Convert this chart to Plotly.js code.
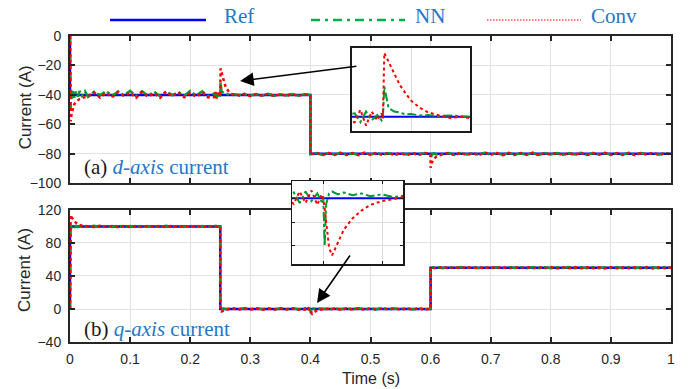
<!DOCTYPE html>
<html><head><meta charset="utf-8">
<script src="https://cdn.plot.ly/plotly-3.0.1.min.js"></script>
<style>html,body{margin:0;padding:0;background:#fff}#chart{width:689px;height:389px}</style>
</head><body><div id="chart"></div>
<script>
// ---------- d-axis current (top panel) ----------
const tD = [
  0, 0.001, 0.002, 0.003, 0.005, 0.007, 0.01, 0.013, 0.016, 0.02,
  0.025, 0.03, 0.04, 0.05, 0.06, 0.07, 0.08, 0.09, 0.1, 0.11,
  0.12, 0.13, 0.14, 0.15, 0.16, 0.17, 0.18, 0.19, 0.2, 0.21,
  0.22, 0.23, 0.24, 0.242, 0.244, 0.246, 0.248, 0.2495, 0.25, 0.2505,
  0.252, 0.254, 0.256, 0.258, 0.26, 0.263, 0.266, 0.27, 0.274, 0.278,
  0.282, 0.29, 0.3, 0.31, 0.32, 0.33, 0.34, 0.35, 0.36, 0.37,
  0.38, 0.39, 0.3999, 0.4, 0.41, 0.42, 0.43, 0.44, 0.45, 0.46,
  0.47, 0.48, 0.49, 0.5, 0.51, 0.52, 0.53, 0.54, 0.55, 0.56,
  0.57, 0.58, 0.59, 0.5999, 0.6, 0.602, 0.605, 0.61, 0.615, 0.62,
  0.63, 0.64, 0.65, 0.66, 0.67, 0.68, 0.69, 0.7, 0.71, 0.72,
  0.73, 0.74, 0.75, 0.76, 0.77, 0.78, 0.79, 0.8, 0.81, 0.82,
  0.83, 0.84, 0.85, 0.86, 0.87, 0.88, 0.89, 0.9, 0.91, 0.92,
  0.93, 0.94, 0.95, 0.96, 0.97, 0.98, 0.99, 1.0
];
const nnD = [
  0, -50, -36.5, -42.5, -37.5, -41.8, -37.8, -41.2, -37.4, -40.6,
  -37.6, -41.3, -37.9, -40.2, -37.3, -40.8, -37.7, -40.4, -37.2, -40.9,
  -37.5, -40.6, -37.8, -41, -37.4, -40.3, -37.9, -40.7, -37.3, -40.5,
  -37.6, -40.8, -39, -41.5, -38.5, -41, -39.5, -41, -40, -31.5,
  -37.5, -38.5, -38.8, -39.3, -39.2, -39.6, -39.5, -39.8, -39.6, -39.9,
  -40.1, -39.4, -40.6, -39.5, -40.5, -39.3, -40.7, -39.6, -40.4, -39.4,
  -40.6, -39.5, -40.1, -80.3, -79.4, -80.7, -79.5, -80.5, -79.3, -80.6,
  -79.6, -80.7, -79.4, -80.5, -79.5, -80.6, -79.4, -80.8, -79.6, -80.5,
  -79.5, -80.6, -79.4, -80.1, -83, -80.8, -79.6, -80.4, -79.7, -80.3,
  -79.5, -80.7, -79.4, -80.5, -79.6, -80.6, -79.3, -80.5, -79.5, -80.7,
  -79.4, -80.5, -79.6, -80.6, -79.3, -80.7, -79.5, -80.4, -79.4, -80.6,
  -79.6, -80.5, -79.3, -80.7, -79.5, -80.4, -79.4, -80.6, -79.6, -80.5,
  -79.4, -80.7, -79.5, -80.4, -79.3, -80.6, -79.5, -80.2
];
const convD = [
  0, -58, -55, -52, -48.5, -46.5, -44.5, -43.5, -42.8, -42,
  -41.5, -41, -38.2, -41.8, -38.6, -41.5, -37.9, -40.8, -38.4, -41.9,
  -38.1, -41.2, -38.8, -42, -37.8, -40.9, -38.3, -41.6, -38.7, -41.3,
  -38.2, -41.7, -41.5, -38, -42.5, -38.5, -41, -39, -40.5, -22,
  -24.5, -28, -31, -33.3, -35.4, -37.4, -38.7, -39.6, -40.3, -40,
  -40.5, -39.3, -40.8, -39.4, -40.6, -39.2, -40.9, -39.5, -40.7, -39.3,
  -40.8, -39.4, -40.3, -80.5, -79.2, -80.9, -79.4, -80.7, -79.3, -80.8,
  -79.5, -80.9, -79.2, -80.6, -79.4, -80.8, -79.3, -80.7, -79.5, -80.9,
  -79.4, -80.8, -79.3, -80.4, -89.5, -86, -83.5, -81.8, -80.8, -80.2,
  -79.4, -80.9, -79.3, -80.7, -79.5, -80.8, -79.2, -80.6, -79.4, -80.9,
  -79.3, -80.7, -79.5, -80.8, -79.2, -80.9, -79.4, -80.6, -79.3, -80.8,
  -79.5, -80.7, -79.2, -80.9, -79.4, -80.6, -79.3, -80.8, -79.5, -80.7,
  -79.3, -80.9, -79.4, -80.6, -79.2, -80.8, -79.5, -80.4
];
const refDT = [0, 0, 0.4, 0.4, 1];
const refDV = [0, -40, -40, -80, -80];

// ---------- q-axis current (bottom panel) ----------
const tQ = [
  0, 0.001, 0.003, 0.005, 0.008, 0.01, 0.013, 0.016, 0.02, 0.025,
  0.03, 0.04, 0.05, 0.06, 0.07, 0.08, 0.09, 0.1, 0.11, 0.12,
  0.13, 0.14, 0.15, 0.16, 0.17, 0.18, 0.19, 0.2, 0.21, 0.22,
  0.23, 0.24, 0.2499, 0.25, 0.252, 0.255, 0.26, 0.27, 0.28, 0.29,
  0.3, 0.31, 0.32, 0.33, 0.34, 0.35, 0.36, 0.37, 0.38, 0.385,
  0.39, 0.392, 0.394, 0.396, 0.398, 0.3995, 0.4, 0.4005, 0.401, 0.402,
  0.403, 0.405, 0.407, 0.41, 0.413, 0.416, 0.42, 0.424, 0.428, 0.435,
  0.44, 0.45, 0.46, 0.47, 0.48, 0.49, 0.5, 0.51, 0.52, 0.53,
  0.54, 0.55, 0.56, 0.57, 0.58, 0.59, 0.5999, 0.6, 0.61, 0.62,
  0.63, 0.64, 0.65, 0.66, 0.67, 0.68, 0.69, 0.7, 0.71, 0.72,
  0.73, 0.74, 0.75, 0.76, 0.77, 0.78, 0.79, 0.8, 0.81, 0.82,
  0.83, 0.84, 0.85, 0.86, 0.87, 0.88, 0.89, 0.9, 0.91, 0.92,
  0.93, 0.94, 0.95, 0.96, 0.97, 0.98, 0.99, 1.0
];
const nnQ = [
  0, 101.5, 99, 100.9, 99.3, 100.7, 99.4, 100.8, 99.2, 100.6,
  99.5, 100.8, 99.3, 100.7, 99.4, 100.9, 99.2, 100.6, 99.5, 100.8,
  99.3, 100.7, 99.4, 100.9, 99.2, 100.6, 99.5, 100.8, 99.3, 100.7,
  99.4, 100.8, 99.8, 0.5, -1.5, 0.6, -0.4, 0.9, -0.3, 0.8,
  -0.4, 0.9, -0.2, 0.7, -0.5, 0.8, -0.3, 0.9, -0.4, -0.4,
  0.6, -0.5, 0.7, -0.3, 0.5, -0.4, 0.2, -5.0, -0.6, 0.5,
  0.7, 0.4, 0.6, 0.3, 0.5, 0.2, 0.4, 0.1, 0.3, -0.2,
  0.8, -0.4, 0.7, -0.3, 0.9, -0.5, 0.6, -0.2, 0.8, -0.4,
  0.7, -0.3, 0.9, -0.5, 0.6, -0.2, 0.1, 50.3, 50.8, 49.5,
  50.7, 49.4, 50.9, 49.6, 50.6, 49.3, 50.8, 49.5, 50.7, 49.4,
  50.9, 49.6, 50.5, 49.3, 50.8, 49.5, 50.7, 49.4, 50.6, 49.6,
  50.8, 49.3, 50.7, 49.5, 50.9, 49.4, 50.6, 49.6, 50.7, 49.3,
  50.8, 49.5, 50.6, 49.4, 50.7, 49.3, 50.8, 49.9
];
const convQ = [
  0, 114, 111, 108.5, 106, 104.5, 103, 102, 101, 100.5,
  100.8, 99.3, 100.9, 99.5, 100.7, 99.2, 100.8, 99.4, 100.6, 99.3,
  100.9, 99.5, 100.7, 99.2, 100.8, 99.4, 100.6, 99.3, 100.9, 99.5,
  100.7, 99.4, 100.2, -1.5, -3, -2, -0.8, 0.6, -0.7, 0.8,
  -0.6, 0.7, -0.8, 0.6, -0.7, 0.8, -0.6, 0.7, -0.8, 0.5,
  -0.6, 0.7, -0.5, 0.8, -0.7, 0.4, -0.2, -1.0, -2.5, -5.2,
  -6.0, -4.6, -3.3, -2.1, -1.3, -0.7, -0.3, -0.1, 0.2, -0.3,
  0.6, -0.7, 0.8, -0.6, 0.7, -0.8, 0.6, -0.7, 0.8, -0.6,
  0.7, -0.8, 0.6, -0.7, 0.8, -0.6, 0.3, 50.5, 49.3, 50.8,
  49.4, 50.7, 49.2, 50.8, 49.5, 50.6, 49.3, 50.9, 49.4, 50.7,
  49.2, 50.8, 49.5, 50.6, 49.3, 50.7, 49.4, 50.9, 49.2, 50.6,
  49.5, 50.8, 49.3, 50.7, 49.4, 50.6, 49.2, 50.8, 49.5, 50.7,
  49.3, 50.6, 49.4, 50.8, 49.2, 50.7, 49.5, 50.3
];
const refQT = [0, 0, 0.25, 0.25, 0.6, 0.6, 1];
const refQV = [0, 100, 100, 0, 0, 50, 50];

// ---------- ticks & labels ----------
const xTicks = [0, 0.1, 0.2, 0.3, 0.4, 0.5, 0.6, 0.7, 0.8, 0.9, 1];
const yTicksD = [-100, -80, -60, -40, -20, 0];
const yTicksQ = [-40, 0, 40, 80, 120];
const seriesNames = ['Ref', 'NN', 'Conv'];
const axisTitles = ['Current (A)', 'Time (s)'];
const panelLabels = ['(a)', 'd-axis', 'current', '(b)', 'q-axis'];

const C_REF = '#0000ff', C_NN = '#009a2e', C_CONV = '#ff0000';
const TXT_BLUE = '#1f78c8';
const SANS = 'Liberation Sans, Arial, sans-serif';
const SERIF = 'Liberation Serif, Times New Roman, serif';

function set(xa, ya, t, v, kind) {
  const line = kind === 'ref' ? {color: C_REF, width: 2.5}
    : kind === 'nn' ? {color: C_NN, width: 2.5, dash: 'dashdot'}
    : {color: C_CONV, width: 2.5, dash: 'dot'};
  return {x: t, y: v, xaxis: xa, yaxis: ya, type: 'scatter', mode: 'lines',
          line: line, hoverinfo: 'skip', showlegend: false};
}

const data = [
  set('x', 'y', refDT, refDV, 'ref'), set('x', 'y', tD, nnD, 'nn'), set('x', 'y', tD, convD, 'conv'),
  set('x2', 'y2', refQT, refQV, 'ref'), set('x2', 'y2', tQ, nnQ, 'nn'), set('x2', 'y2', tQ, convQ, 'conv'),
  set('x3', 'y3', refDT, refDV, 'ref'), set('x3', 'y3', tD, nnD, 'nn'), set('x3', 'y3', tD, convD, 'conv'),
  set('x4', 'y4', refQT, refQV, 'ref'), set('x4', 'y4', tQ, nnQ, 'nn'), set('x4', 'y4', tQ, convQ, 'conv')
];
for (let i = 6; i < 12; i++) data[i].line.width = 2;

const mainAx = {
  showline: true, linecolor: '#262626', linewidth: 2, mirror: 'ticks',
  ticks: 'inside', ticklen: 5, tickwidth: 2, tickcolor: '#262626',
  showgrid: true, gridcolor: '#e2e2e2', gridwidth: 1, zeroline: false,
  tickfont: {family: SANS, size: 14, color: '#262626'}, automargin: false
};
const insetAx = {
  showline: true, linecolor: '#1a1a1a', linewidth: 1.5, mirror: true,
  showgrid: true, gridcolor: '#dcdcdc', zeroline: false, showticklabels: false,
  automargin: false
};
const titleFont = {family: SANS, size: 17, color: '#262626'};
const legFont = {family: SERIF, size: 21, color: TXT_BLUE};

const layout = {
  width: 689, height: 389,
  margin: {l: 70, r: 18, t: 36, b: 47},
  paper_bgcolor: '#ffffff', plot_bgcolor: '#ffffff',
  showlegend: false,
  xaxis: Object.assign({}, mainAx, {domain: [0, 1], anchor: 'y', range: [0, 1],
    tickvals: xTicks, showticklabels: false}),
  yaxis: Object.assign({}, mainAx, {domain: [0.5186, 1], anchor: 'x', range: [-100, 0],
    tickvals: yTicksD, ticklabelstandoff: 4}),
  xaxis2: Object.assign({}, mainAx, {domain: [0, 1], anchor: 'y2', range: [0, 1],
    tickvals: xTicks, ticklabelstandoff: 3}),
  yaxis2: Object.assign({}, mainAx, {domain: [0, 0.4314], anchor: 'x2', range: [-40, 120],
    tickvals: yTicksQ, ticklabelstandoff: 4}),
  xaxis3: Object.assign({}, insetAx, {domain: [0.4692, 0.6656], anchor: 'y3',
    range: [0.239, 0.281], tickvals: [0.26], ticks: ''}),
  yaxis3: Object.assign({}, insetAx, {domain: [0.6895, 0.9608], anchor: 'x3',
    range: [-44, -20.6], tickvals: [], showgrid: false, ticks: ''}),
  xaxis4: Object.assign({}, insetAx, {domain: [0.3694, 0.5541], anchor: 'y4',
    range: [0.3894, 0.4271], tickvals: [0.40, 0.42], ticks: 'inside', ticklen: 3,
    tickcolor: '#1a1a1a', mirror: 'ticks'}),
  yaxis4: Object.assign({}, insetAx, {domain: [0.2549, 0.5261], anchor: 'x4',
    range: [-6.9, 1.8], tickvals: [-5, -2.5, 0], ticks: 'inside', ticklen: 3,
    tickcolor: '#1a1a1a', mirror: 'ticks'}),
  shapes: [
    {type: 'line', xref: 'paper', yref: 'paper', x0: 0.0666, x1: 0.2263, y0: 1.0523, y1: 1.0523,
     line: {color: C_REF, width: 2.5}},
    {type: 'line', xref: 'paper', yref: 'paper', x0: 0.401, x1: 0.5574, y0: 1.0523, y1: 1.0523,
     line: {color: '#00b048', width: 2.5, dash: '9px,5px,3px,5px'}},
    {type: 'line', xref: 'paper', yref: 'paper', x0: 0.6938, x1: 0.8502, y0: 1.0523, y1: 1.0523,
     line: {color: C_CONV, width: 1.2, dash: '1.5px,1.5px'}},
    {type: 'rect', xref: 'paper', yref: 'paper', x0: 0.0116, x1: 0.2912, y0: 0.5186, y1: 0.6209,
     fillcolor: '#ffffff', line: {width: 0}, layer: 'between'},
    {type: 'rect', xref: 'paper', yref: 'paper', x0: 0.0116, x1: 0.2912, y0: 0, y1: 0.0948,
     fillcolor: '#ffffff', line: {width: 0}, layer: 'between'}
  ],
  annotations: [
    {xref: 'paper', yref: 'paper', x: 0.2529, y: 1.065, xanchor: 'left', yanchor: 'middle',
     text: seriesNames[0], showarrow: false, font: legFont},
    {xref: 'paper', yref: 'paper', x: 0.5707, y: 1.065, xanchor: 'left', yanchor: 'middle',
     text: seriesNames[1], showarrow: false, font: legFont},
    {xref: 'paper', yref: 'paper', x: 0.8636, y: 1.065, xanchor: 'left', yanchor: 'middle',
     text: seriesNames[2], showarrow: false, font: legFont},
    {xref: 'paper', yref: 'paper', x: -0.0749, y: 0.7667, xanchor: 'center', yanchor: 'middle',
     textangle: -90, text: axisTitles[0], showarrow: false, font: titleFont},
    {xref: 'paper', yref: 'paper', x: -0.0749, y: 0.2353, xanchor: 'center', yanchor: 'middle',
     textangle: -90, text: axisTitles[0], showarrow: false, font: titleFont},
    {xref: 'paper', yref: 'paper', x: 0.5008, y: -0.1209, xanchor: 'center', yanchor: 'middle',
     text: axisTitles[1], showarrow: false, font: {family: SANS, size: 16, color: '#262626'}},
    {xref: 'paper', yref: 'paper', x: 0.0205, y: 0.572, xanchor: 'left', yanchor: 'middle',
     text: '<span style="color:#1a1a1a">' + panelLabels[0] + '</span> <i>' + panelLabels[1] + '</i> ' + panelLabels[2],
     showarrow: false, font: {family: SERIF, size: 21, color: TXT_BLUE}},
    {xref: 'paper', yref: 'paper', x: 0.0205, y: 0.0425, xanchor: 'left', yanchor: 'middle',
     text: '<span style="color:#1a1a1a">' + panelLabels[3] + '</span> <i>' + panelLabels[4] + '</i> ' + panelLabels[2],
     showarrow: false, font: {family: SERIF, size: 21, color: TXT_BLUE}},
    {xref: 'x', yref: 'y', x: 0.283, y: -30.6, axref: 'x', ayref: 'y', ax: 0.479, ay: -20.4,
     text: '', showarrow: true, arrowhead: 2, arrowsize: 1.7, arrowwidth: 1.6, arrowcolor: '#000'},
    {xref: 'x2', yref: 'y2', x: 0.411, y: 7.3, axref: 'x2', ayref: 'y2', ax: 0.4676, ay: 66.7,
     text: '', showarrow: true, arrowhead: 2, arrowsize: 1.7, arrowwidth: 1.6, arrowcolor: '#000'}
  ]
};

Plotly.newPlot('chart', data, layout, {displayModeBar: false, staticPlot: true});
</script></body></html>
